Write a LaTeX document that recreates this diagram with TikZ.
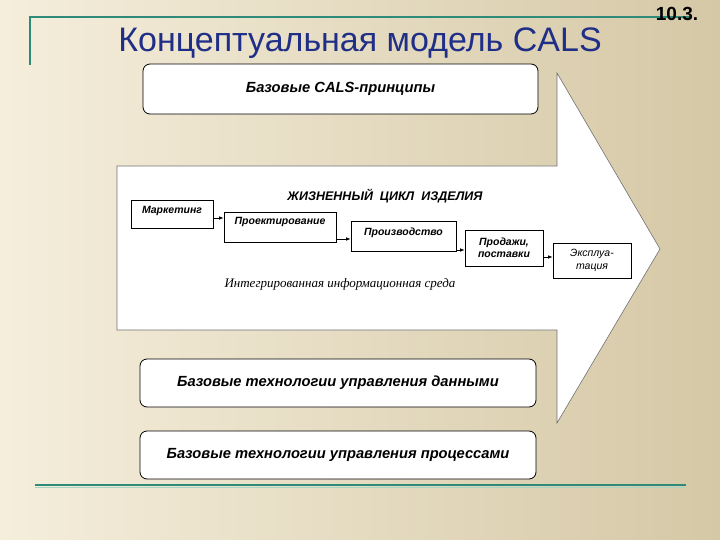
\documentclass[tikz,border=0pt]{standalone}
\usepackage{fontspec}
\setmainfont{Liberation Sans}
\newfontfamily\serifit{Liberation Serif}
\usetikzlibrary{arrows.meta}
\definecolor{bgL}{HTML}{F5EEDC}
\definecolor{bgR}{HTML}{D5C8A6}
\definecolor{lineteal}{HTML}{2E8B7A}
\definecolor{lightteal}{HTML}{A8D5C4}
\definecolor{titleblue}{HTML}{1F2E86}
\definecolor{arrowgray}{HTML}{707070}
\tikzset{
  stage/.style={draw=black, line width=0.7pt, fill=white, inner xsep=0pt, inner ysep=0pt,
    font=\fontsize{10.5}{12}\selectfont\bfseries\itshape, align=center},
  basebox/.style={draw=black, line width=0.8pt, fill=white, rounded corners=7pt,
    inner sep=0pt, font=\fontsize{14.7}{16}\selectfont\bfseries\itshape},
  flow/.style={-{Latex[length=4.5pt,width=3.5pt]}, line width=0.7pt},
  rule/.style={lineteal, line width=2pt}
}
\begin{document}
\begin{tikzpicture}[x=1pt,y=-1pt]
\useasboundingbox (0,0) rectangle (720,540);
\shade[left color=bgL, right color=bgR] (0,0) rectangle (720,540);

% header rules
\draw[rule] (30,65) -- (30,17) -- (690,17);
\node[font=\fontsize{19}{22}\selectfont\bfseries] (num) at (677,14) {10.3.};
\node[titleblue, font=\fontsize{34}{40}\selectfont] (title) at (360,43) {Концептуальная модель CALS};

% bottom rule
\draw[lightteal, line width=1.6pt] (35,487.5) -- (686,487.5);
\draw[rule] (35,485) -- (686,485);

% big arrow
\draw[arrowgray, line width=0.6pt, fill=white]
  (117,166) -- (557,166) -- (557,73) -- (660,249) -- (557,423) -- (557,330) -- (117,330) -- cycle;

% top box
\node[basebox, minimum width=395pt, minimum height=50pt] (cals) at (340.5,89) {Базовые CALS-принципы};

% life cycle
\node[font=\fontsize{12.5}{14}\selectfont\bfseries\itshape] (lc) at (385,196) {ЖИЗНЕННЫЙ\ \ ЦИКЛ\ \ ИЗДЕЛИЯ};

\node[stage, minimum width=82pt, text height=14pt, text depth=14pt] (mk) at (172,214) {Маркетинг};
\node[stage, minimum width=112pt, text height=13pt, text depth=17pt] (pr) at (280,227) {Проектирование};
\node[stage, minimum width=105pt, text height=15pt, text depth=15pt] (pz) at (403.5,236) {Производство};
\node[stage, minimum width=78pt, minimum height=36pt] (pd) at (504,248) {Продажи,\\поставки};
\node[stage, minimum width=78pt, minimum height=35pt, font=\fontsize{10.5}{12.5}\selectfont\itshape] (ek) at (592,260.5) {Эксплуа-\\тация};

\draw[flow] (mk.east |- 0,218) -- (pr.west |- 0,218);
\draw[flow] (pr.east |- 0,239) -- (pz.west |- 0,239);
\draw[flow] (pz.east |- 0,250) -- (pd.west |- 0,250);
\draw[flow] (pd.east |- 0,257) -- (ek.west |- 0,257);

\node[font=\fontsize{13}{15}\selectfont\serifit\itshape] (env) at (340,284) {Интегрированная информационная среда};

% lower boxes
\node[basebox, minimum width=396pt, minimum height=48pt] (data) at (338,383) {Базовые технологии управления данными};
\node[basebox, minimum width=396pt, minimum height=48pt] (proc) at (338,455) {Базовые технологии управления процессами};
\end{tikzpicture}
\end{document}
